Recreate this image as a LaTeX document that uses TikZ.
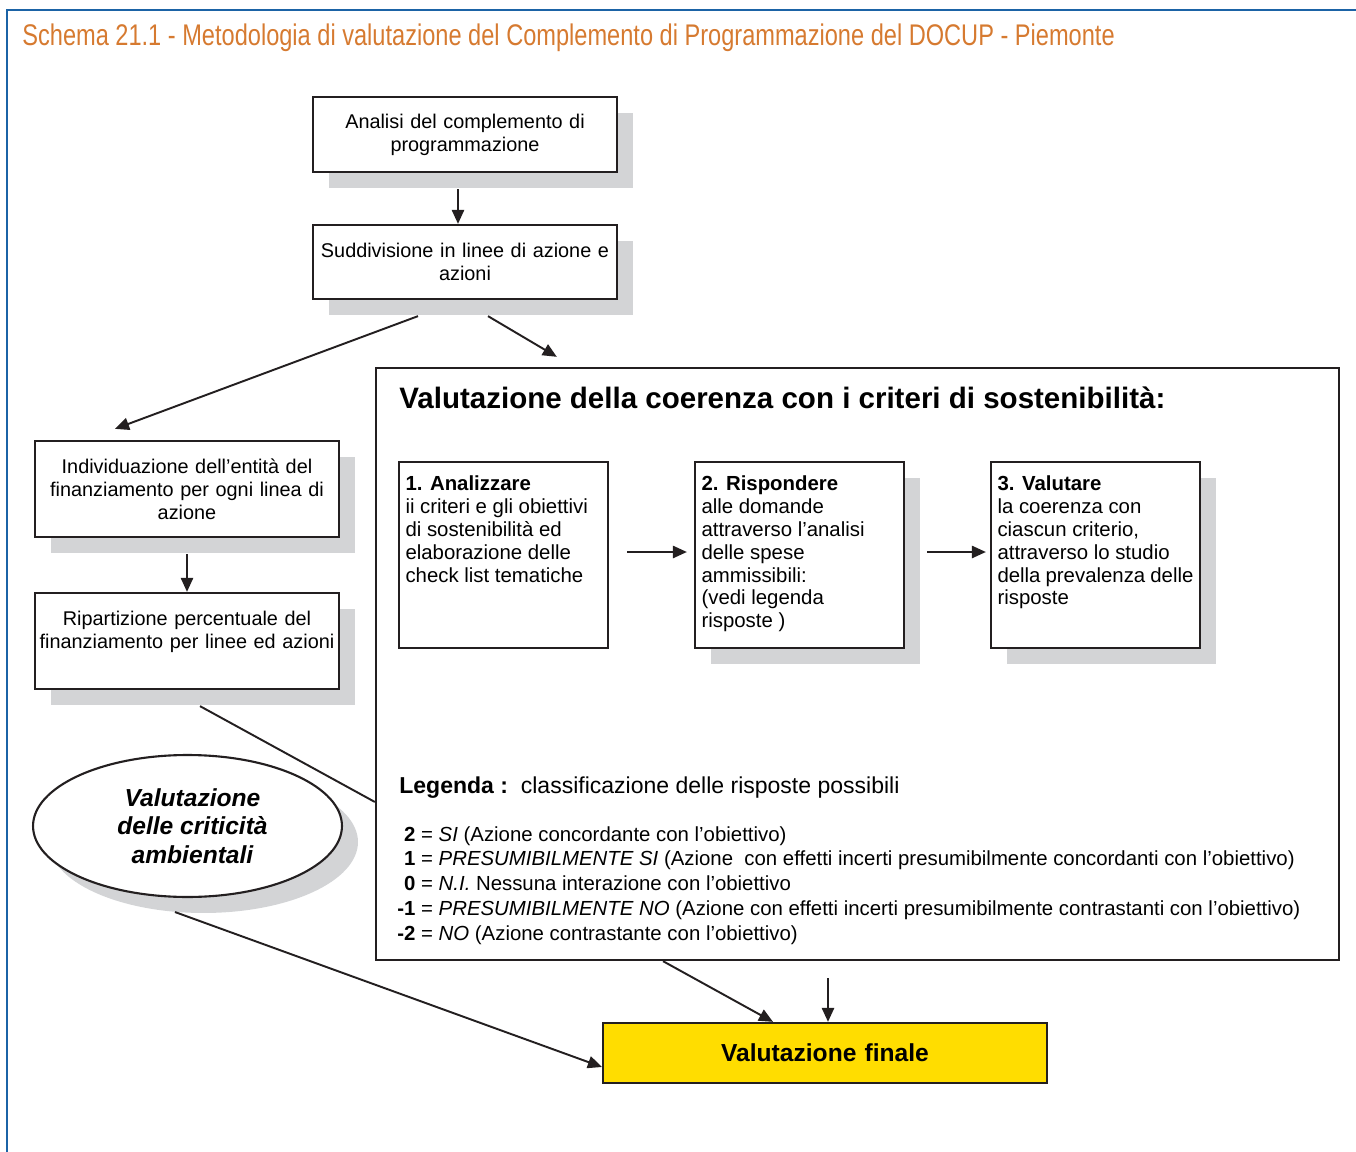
\documentclass[tikz,border=0pt]{standalone}
\usepackage{fontspec}
\setmainfont{Liberation Sans}
\newfontfamily\titlefont[FakeStretch=0.79]{Liberation Sans}
\usetikzlibrary{calc,positioning,shapes,shadows,arrows.meta}

\definecolor{frameblue}{RGB}{27,99,166}
\definecolor{titleorange}{RGB}{214,122,48}
\definecolor{shadowgray}{RGB}{211,212,214}
\definecolor{inkblack}{RGB}{35,31,32}
\definecolor{finalyellow}{RGB}{255,221,0}

\tikzset{
    boxshadow/.style={drop shadow={shadow xshift=0.32cm, shadow yshift=-0.32cm, opacity=1, fill=shadowgray}},
    box/.style={rectangle, draw=inkblack, line width=1.3pt, fill=white, align=center, text width=6cm, inner xsep=0.04cm, font=\fontsize{11.3}{13}\selectfont},
    stepbox/.style={rectangle, draw=inkblack, line width=1.3pt, fill=white, inner xsep=0.13cm, inner ysep=0.28cm, font=\fontsize{11.6}{13}\selectfont},
    flow/.style={-{Triangle[length=8pt,width=7pt]}, line width=1.1pt, draw=inkblack},
}

\begin{document}
\begin{tikzpicture}[x=0.02cm, y=-0.02cm]
    \useasboundingbox (0,0) rectangle (1356,1152);
    %% Frame and title
    \draw[frameblue, line width=1.7pt] (7,1152) -- (7,10) -- (1356,10);
    \node[anchor=base west, inner sep=0, text=titleorange, font=\titlefont\fontsize{17}{20}\selectfont] (title) at (22,46) {Schema 21.1 - Metodologia di valutazione del Complemento di Programmazione del DOCUP - Piemonte};

    %% Upper chain
    \node[box, boxshadow, minimum width=6.08cm, minimum height=1.5cm] (a1) at (465,134.5) {Analisi del complemento di\\programmazione};
    \node[box, boxshadow, minimum width=6.08cm, minimum height=1.48cm] (a2) at (465,262) {Suddivisione in linee di azione e\\azioni};

    %% Left chain
    \node[box, boxshadow, minimum width=6.08cm, minimum height=1.92cm] (b1) at (187,489) {Individuazione dell'entità del\\finanziamento per ogni linea di\\azione};
    \node[box, boxshadow, minimum width=6.08cm, minimum height=1.92cm] (b2) at (187,641) {Ripartizione percentuale del\\finanziamento per linee ed azioni\\ \mbox{}};

    \node[ellipse, draw=inkblack, line width=1.2pt, fill=white, boxshadow, minimum width=6.18cm, minimum height=2.84cm, inner sep=0, align=center, font=\bfseries\itshape\fontsize{14}{16.2}\selectfont] (crit) at (187.5,826) {\hspace*{0.2cm}Valutazione\\\hspace*{0.2cm}delle criticità\\\hspace*{0.2cm}ambientali};

    %% Coherence box
    \node[rectangle, draw=inkblack, line width=1.4pt, minimum width=19.26cm, minimum height=11.84cm] (big) at (857.5,664) {};
    \node[anchor=base west, inner sep=0, font=\bfseries\fontsize{16.8}{19}\selectfont] (head) at (399,408) {Valutazione della coerenza con i criteri di sostenibilità:};

    \node[stepbox] (s1) at (503.5,555) {\parbox[t][3.16cm][t]{3.92cm}{\raggedright\textbf{1. Analizzare}\\ii criteri e gli obiettivi\\di sostenibilità ed\\elaborazione delle\\check list tematiche}};
    \node[stepbox, boxshadow] (s2) at (799.5,555) {\parbox[t][3.16cm][t]{3.92cm}{\raggedright\textbf{2. Rispondere}\\alle domande\\attraverso l'analisi\\delle spese\\ammissibili:\\(vedi legenda\\risposte )}};
    \node[stepbox, boxshadow] (s3) at (1095.5,555) {\parbox[t][3.16cm][t]{3.92cm}{\raggedright\textbf{3. Valutare}\\la coerenza con\\ciascun criterio,\\attraverso lo studio\\della prevalenza delle\\risposte}};

    %% Legend
    \node[anchor=base west, inner sep=0, font=\fontsize{13.1}{15}\selectfont] (leg) at (399,793) {\textbf{Legenda :}\ \ classificazione delle risposte possibili};
    \node[anchor=base west, inner sep=0, font=\fontsize{11.6}{14.2}\selectfont] (legitems) at (397,841) {%
        \begin{tabular}[t]{@{}r@{\ =\ }l@{}}
        \textbf{2} & \textit{SI} (Azione concordante con l'obiettivo)\\
        \textbf{1} & \textit{PRESUMIBILMENTE SI} (Azione \ con effetti incerti presumibilmente concordanti con l'obiettivo)\\
        \textbf{0} & \textit{N.I.} Nessuna interazione con l'obiettivo\\
        \textbf{-1} & \textit{PRESUMIBILMENTE NO} (Azione con effetti incerti presumibilmente contrastanti con l'obiettivo)\\
        \textbf{-2} & \textit{NO} (Azione contrastante con l'obiettivo)
        \end{tabular}};

    %% Final box
    \node[box, fill=finalyellow, minimum width=8.88cm, minimum height=1.2cm, font=\bfseries\fontsize{14}{16}\selectfont] (vf) at (825,1053) {Valutazione finale};
    \coordinate (vfin) at (828,978);

    %% Connectors
    \draw[flow] ([xshift=-0.14cm, yshift=-0.32cm]a1.south) -- ([xshift=-0.14cm]a2.north);
    \draw[flow] ([xshift=-0.94cm, yshift=-0.32cm]a2.south) -- ([xshift=-1.44cm, yshift=0.22cm]b1.north);
    \draw[flow] ([xshift=0.46cm, yshift=-0.32cm]a2.south) -- ([xshift=3.64cm, yshift=0.2cm]big.north west);
    \draw[flow] ([yshift=-0.32cm]b1.south) -- (b2.north);
    \draw[line width=1.1pt, inkblack] ([xshift=0.26cm, yshift=-0.32cm]b2.south) -- ([yshift=-2.76cm]big.west);
    \draw[flow] ([xshift=0.36cm, yshift=0.06cm]s1.east) -- ([xshift=-0.14cm, yshift=0.06cm]s2.west);
    \draw[flow] ([xshift=0.44cm, yshift=0.06cm]s2.east) -- ([xshift=-0.08cm, yshift=0.06cm]s3.west);
    \draw[flow] ([xshift=-0.25cm, yshift=-0.28cm]crit.south) -- ([yshift=-0.28cm]vf.west);
    \draw[flow] ([xshift=-3.89cm]big.south) -- ([xshift=-1.04cm]vf.north);
    \draw[flow] (vfin) -- (vfin |- vf.north);
\end{tikzpicture}
\end{document}
